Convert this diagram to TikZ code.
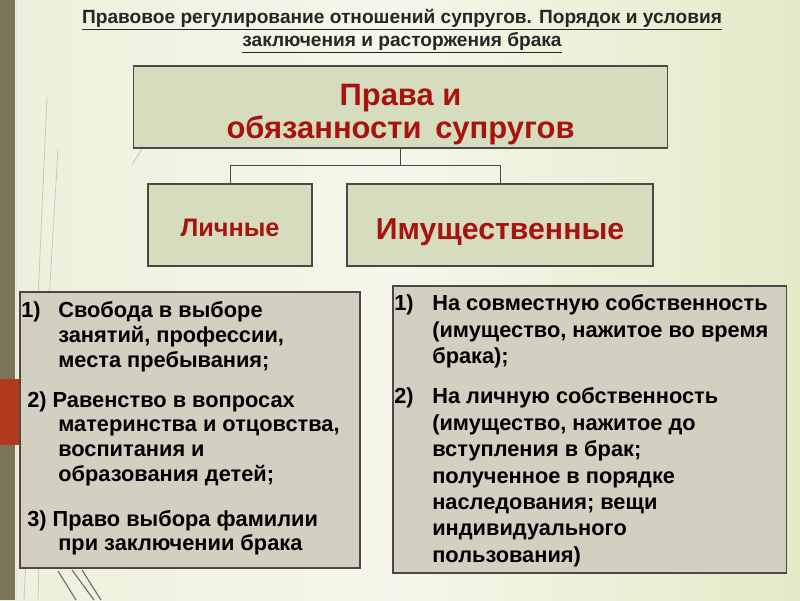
\documentclass[tikz,border=0pt]{standalone}
\usepackage{fontspec}
\setmainfont{Liberation Sans}
\usepackage{array}
\usetikzlibrary{positioning}
\definecolor{bgleft}{HTML}{EEF0DC}
\definecolor{bgmid}{HTML}{F6F6EA}
\definecolor{bgright}{HTML}{E4EAC8}
\definecolor{barolive}{HTML}{7B7459}
\definecolor{barred}{HTML}{B3391D}
\definecolor{boxline}{HTML}{4A4A44}
\definecolor{headfill}{HTML}{D6DDBF}
\definecolor{listfill}{HTML}{D3CFC1}
\definecolor{headred}{HTML}{A8120F}
\definecolor{titlegray}{HTML}{262626}
\tikzset{
  {head box/.style} ={draw=boxline, line width=0.8pt, fill=headfill,
                      inner sep=0},
  {head label/.style} ={text=headred, align=center, inner sep=0},
  {list box/.style} ={draw=boxline, line width=0.8pt, fill=listfill},
  {list text/.style} ={anchor=north west, inner sep=0, text=black,
                      font=\bfseries},
  {link/.style} ={draw=boxline, line width=0.6pt},
  {grass/.style} ={draw=black!35, line width=0.5pt, opacity=.6},
  {dark grass/.style} ={draw=black!70, line width=0.8pt, opacity=.8},
  >=latex,
}
\begin{document}
\begin{tikzpicture}[x=0.025cm,y=-0.025cm]
\useasboundingbox (0,0) rectangle (800,600);
% background and side bar
\shade[left color=bgleft, right color=bgright, middle color=bgmid] (0,0) rectangle (800,600);
\draw[grass] (47,97) .. controls (38,300) .. (24,600);
\draw[grass] (58,150) .. controls (44,380) .. (38,600);
\draw[grass] (153,130) -- (132,165);
\draw[grass] (173,238) -- (155,265);
\draw[dark grass] (58,571) -- (76,600);
\draw[dark grass] (72,570) -- (94,600);
\draw[dark grass] (82,570) -- (101,600);
\fill[barolive] (0,0) rectangle (15,600);
\draw[white!80!barolive, line width=0.6pt] (16,0) -- (16,600);
\fill[barred] (0,379) rectangle (20,445);

% title
\node[text=titlegray, font=\fontsize{13.6}{16.3}\selectfont\bfseries, align=center]
  (title) at (402,31) {\underline{Правовое регулирование отношений супругов. Порядок и условия}\\
  \underline{заключения и расторжения брака}};

% tree
\node[head box, minimum width=13.325cm, minimum height=2.05cm] (rights) at (400.5,107) {};
\node[head box, minimum width=4.1cm, minimum height=2.05cm] (personal) at (230,225) {};
\node[head box, minimum width=7.65cm, minimum height=2.05cm] (property) at (500,225) {};
\node[head label, font=\fontsize{22}{23.4}\selectfont\bfseries]
  (rightsname) at ([yshift=-5.3pt]rights.center) {Права и\\обязанности\, супругов};
\node[head label, font=\fontsize{18}{20}\selectfont\bfseries]
  (personalname) at ([yshift=-2.1pt]personal.center) {Личные};
\node[head label, font=\fontsize{21.5}{24}\selectfont\bfseries]
  (propertyname) at ([yshift=-5pt]property.center) {Имущественные};
\path[link] (rights.south) -- ++(0,17) -| (personal.north);
\path[link] (rights.south) -- ++(0,17) -| (property.north);

% lists
\node[list box, minimum width=8.5cm, minimum height=6.9cm] (plist) at (190,430) {};
\node[list box, minimum width=9.825cm, minimum height=7.175cm] (olist) at (589.5,429.5) {};

\node[list text, font=\fontsize{15.5}{17.6}\selectfont\bfseries] (ptext) at (21,300)
{\begin{tabular}{@{}p{0.925cm}@{}l@{}}
1) & Свобода в выборе\\
   & занятий, профессии,\\
   & места пребывания;\\[0.38cm]
\multicolumn{2}{@{\hspace{0.15cm}}l@{}}{2) Равенство в вопросах}\\
   & материнства и отцовства,\\
   & воспитания и\\
   & образования детей;\\[0.5cm]
\multicolumn{2}{@{\hspace{0.15cm}}l@{}}{3) Право выбора фамилии}\\
   & при заключении брака
\end{tabular}};

\node[list text, font=\fontsize{15.5}{18.8}\selectfont\bfseries] (otext) at (394,292)
{\begin{tabular}{@{}p{0.95cm}@{}l@{}}
1) & На совместную собственность\\
   & (имущество, нажитое во время\\
   & брака);\\[0.34cm]
2) & На личную собственность\\
   & (имущество, нажитое до\\
   & вступления в брак;\\
   & полученное в порядке\\
   & наследования; вещи\\
   & индивидуального\\
   & пользования)
\end{tabular}};
\end{tikzpicture}
\end{document}
